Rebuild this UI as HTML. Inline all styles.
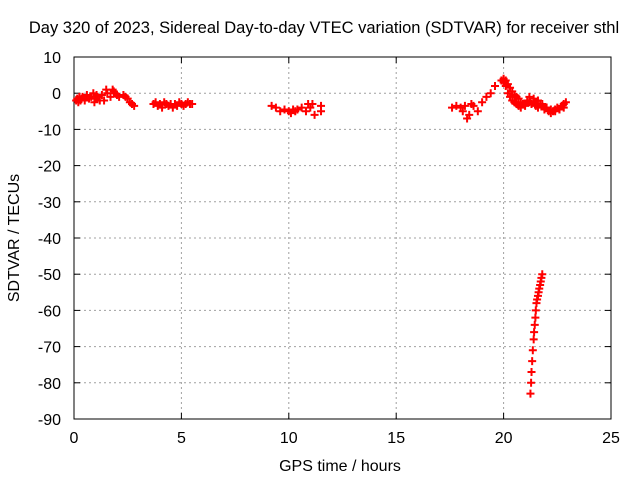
<!DOCTYPE html>
<html><head><meta charset="utf-8"><style>
body{margin:0;background:#fff}
svg{display:block;font-family:"Liberation Sans",sans-serif}
</style></head><body>
<svg id="c" width="640" height="480">
<text x="324" y="33" text-anchor="middle" font-size="16.5">Day 320 of 2023, Sidereal Day-to-day VTEC variation (SDTVAR) for receiver sthl</text>
<text x="340" y="471" text-anchor="middle" font-size="16">GPS time / hours</text>
<text transform="translate(19,238) rotate(-90)" text-anchor="middle" font-size="16">SDTVAR / TECUs</text>
<g id="grid"></g><g id="axes"></g><g id="pts"></g>
</svg>
<script>
const xTicks=[0,5,10,15,20,25];
const yTicks=[10,0,-10,-20,-30,-40,-50,-60,-70,-80,-90];
const hours=[0.1,0.15,0.2,0.25,0.3,0.35,0.4,0.5,0.6,0.7,0.8,0.9,0.95,1.0,1.05,1.1,1.2,1.3,1.4,1.5,1.55,1.7,1.8,1.85,1.9,2.0,2.1,2.3,2.4,2.5,2.6,2.7,2.8,
3.7,3.8,3.9,4.0,4.1,4.2,4.3,4.4,4.5,4.6,4.7,4.8,4.9,5.0,5.1,5.2,5.3,5.4,5.5,
9.2,9.4,9.6,9.8,10.0,10.1,10.2,10.3,10.4,10.6,10.8,10.9,11.0,11.1,11.2,11.5,11.5,
17.6,17.8,18.0,18.1,18.2,18.3,18.4,18.5,18.6,18.8,19.0,19.2,19.4,19.6,19.9,20.0,20.1,20.2,20.3,20.4,20.5,20.6,20.7,20.8,20.9,21.0,21.1,21.2,21.3,21.4,21.5,21.6,21.7,21.8,21.9,22.0,22.1,22.2,22.3,22.4,22.5,22.6,22.7,22.8,22.9,
20.0,20.1,20.2,20.3,20.4,20.5,20.6,20.7,20.8,21.0,21.2,21.4,21.6,21.8,22.0,22.2,22.4,22.6,22.8,
21.25,21.28,21.3,21.33,21.36,21.4,21.42,21.45,21.48,21.5,21.53,21.56,21.6,21.63,21.66,21.7,21.73,21.76,21.8];
const values=[-2,-1.5,-2.5,-1,-2,-1.5,-1,-2,-0.5,-1.5,-1,0,-2.5,-1.5,-0.5,-1,-2,-0.5,-2,1,0,-1,1,0.5,0,-0.5,-1,-0.5,-1,-1.5,-2.5,-3,-3.5,
-3,-2.5,-3.5,-3,-4,-2.5,-3,-3.5,-3,-4,-3,-3.5,-2.5,-3,-3.5,-3,-2.5,-3,-3,
-3.5,-4,-5,-4.5,-5,-5.5,-4.5,-5,-4.5,-4,-5,-3,-4,-3,-6,-5,-3.5,
-4,-3.5,-4,-5,-3.5,-7,-6,-3,-3.5,-5,-2.5,-1,0,2,3.5,4,3.5,2.5,1.5,0.5,-0.5,-1,-1.5,-2.5,-3,-3,-2,-2.5,-3,-2.5,-3.5,-4,-3,-3.5,-4.5,-4,-5,-5.5,-5,-4.5,-4,-4.5,-3.5,-3,-2.5,
3,2,0,-1,-2,-2.5,-3,-3.5,-4,-3.5,-1,-1.5,-2,-3,-4,-4.5,-5,-4.5,-4,
-83,-80,-77,-74,-71,-68,-66,-64,-62,-60,-58,-57,-56,-55,-54,-53,-52,-51,-50];
const X0=74,X1=611,Y0=57,Y1=419;
const sx=h=>X0+(h-0)/(25-0)*(X1-X0);
const sy=v=>Y0+(10-v)/(100)*(Y1-Y0);
const NS="http://www.w3.org/2000/svg";
const grid=document.getElementById('grid'),axes=document.getElementById('axes'),pts=document.getElementById('pts');
function mk(tag,attrs,parent){const e=document.createElementNS(NS,tag);for(const k in attrs)e.setAttribute(k,attrs[k]);parent.appendChild(e);return e;}
xTicks.forEach(t=>{const x=sx(t);
 if(t>0&&t<25){const g=mk('line',{x1:x,x2:x,y1:Y0,y2:Y1,stroke:'#a0a0a0','stroke-dasharray':'2,3'},grid);
 
 }
 mk('line',{x1:x,x2:x,y1:Y1,y2:Y1-6,stroke:'#000'},axes);mk('line',{x1:x,x2:x,y1:Y0,y2:Y0+6,stroke:'#000'},axes);
 const tx=mk('text',{x:x,y:Y1+24,'text-anchor':'middle','font-size':'16'},axes);tx.textContent=t;
 
 });
yTicks.forEach(t=>{const y=sy(t);
 if(t<10&&t>-90){const g=mk('line',{x1:X0,x2:X1,y1:y,y2:y,stroke:'#a0a0a0','stroke-dasharray':'2,3'},grid);
 
 }
 mk('line',{x1:X0,x2:X0+6,y1:y,y2:y,stroke:'#000'},axes);mk('line',{x1:X1,x2:X1-6,y1:y,y2:y,stroke:'#000'},axes);
 const tx=mk('text',{x:X0-13,y:y+6,'text-anchor':'end','font-size':'16'},axes);tx.textContent=t;
 
 });
const fr=mk('rect',{x:X0,y:Y0,width:X1-X0,height:Y1-Y0,fill:'none',stroke:'#000'},axes);


hours.forEach((h,i)=>{const x=sx(h),y=sy(values[i]);
 const p=mk('path',{d:`M${x-4},${y}H${x+4}M${x},${y-4}V${y+4}`,stroke:'#f00','stroke-width':'2'},pts);
 
 });
</script>
</body></html>
